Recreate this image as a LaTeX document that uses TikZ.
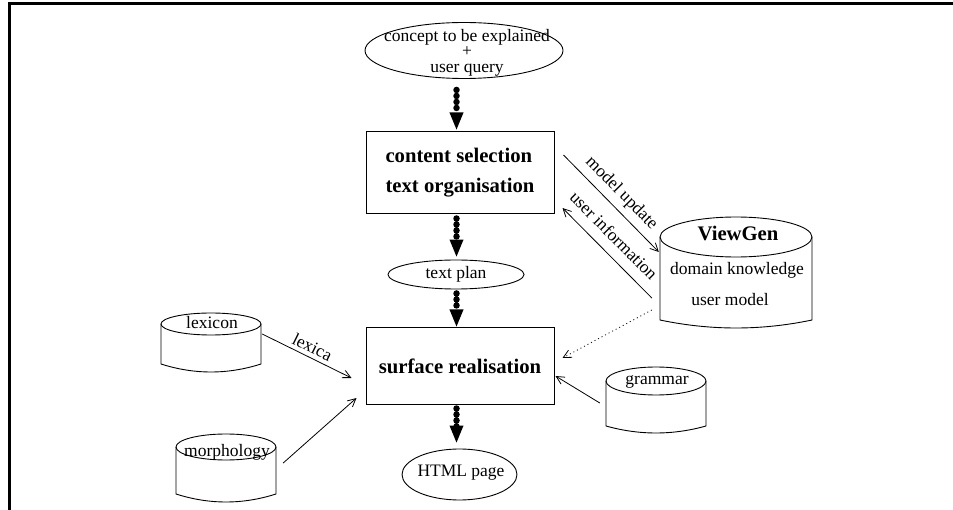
\documentclass[tikz,border=0pt]{standalone}
\usepackage{fontspec}
\setmainfont{Liberation Serif}
\usetikzlibrary{arrows.meta,shapes.geometric,calc}
\newcommand\nrmtxt{\fontsize{17.5}{20}\selectfont}
\newcommand\bigbf{\fontsize{20.7}{30}\selectfont\bfseries}
% cx, cy (top ellipse centre), rx, ry, y of side bottoms, sag of bottom arc
\newcommand\drawcyl[6]{%
  \draw[cylline] (#1,#2) ellipse [x radius=#3, y radius=#4];
  \draw[cylline] (#1-#3,#2) -- (#1-#3,#5) .. controls (#1-#3/3,#5+1.333*#6) and (#1+#3/3,#5+1.333*#6) .. (#1+#3,#5) -- (#1+#3,#2);
}
\begin{document}
\begin{tikzpicture}[x=1pt,y=-1pt,
  box/.style={draw, line width=1pt, minimum width=188pt, inner sep=0pt, font=\bigbf, align=left},
  oval/.style={draw, ellipse, line width=0.9pt, inner sep=0pt, font=\nrmtxt},
  flow/.style={line width=6.5pt, dash pattern=on 0pt off 6pt, line cap=round, -{Triangle[length=18pt,width=12.5pt]}},
  link/.style={line width=0.8pt, -{Straight Barb[length=8pt,width=8pt]}},
  cylline/.style={line width=0.9pt},
  cylbox/.style={inner sep=0pt, draw=none},
  lbl/.style={font=\nrmtxt, inner sep=2pt},
  txt/.style={font=\nrmtxt, inner sep=0pt}
]
\useasboundingbox (0,0) rectangle (953,510);
\draw[line width=3.3pt] (9.3,510) -- (9.3,3.3) -- (953,3.3);

% main column
\node[oval, minimum width=198pt, minimum height=56pt] (q) at (464,50.5) {};
\node[txt, align=center, font=\fontsize{17.5}{15.5}\selectfont] (qt) at (467,52.5) {concept to be explained\\+\\user query};
\node[box, minimum height=82pt] (box1) at (460,173) {content selection\\text organisation};
\node[oval, minimum width=136pt, minimum height=29pt] (tp) at (456,274.5) {text plan};
\node[box, minimum height=76pt] (box2) at (460,366) {surface realisation};
\node[oval, minimum width=115pt, minimum height=51pt] (html) at (459.5,474.5) {};
\node[txt] (htmlt) at (461,473) {HTML page};

% cylinders
\drawcyl{736}{237}{76}{20}{320}{8}
\node[cylbox, minimum width=152pt, minimum height=111pt] (vg) at (736,272.5) {};
\node[txt, font=\bigbf] (vgt) at (738,233) {ViewGen};
\node[txt] (vgd) at (737,270) {domain knowledge};
\node[txt] (vgu) at (730,300) {user model};

\drawcyl{211}{324}{50}{11}{364}{8}
\node[cylbox, minimum width=100pt, minimum height=59pt] (lex) at (211,342.5) {};
\node[txt] (lext) at (212,323) {lexicon};

\drawcyl{226}{447}{50}{13}{494}{8}
\node[cylbox, minimum width=100pt, minimum height=68pt] (morph) at (226,468) {};
\node[txt] (morpht) at (227,452) {morphology};

\drawcyl{656}{381}{50}{14}{426}{7}
\node[cylbox, minimum width=100pt, minimum height=66pt] (gr) at (656,400) {};
\node[txt] (grt) at (657,382) {grammar};

% thick dotted flow
\draw[flow, shorten <=11pt, shorten >=1pt] ($(box1.north |- q.south)+(-3.5,0)$) -- ($(box1.north)+(-3.5,0)$);
\draw[flow, shorten <=4pt, shorten >=2pt] ($(box1.south)+(-3.5,0)$) -- ($(box1.south |- tp.north)+(-3.5,0)$);
\draw[flow, shorten <=4pt] ($(box1.south |- tp.south)+(-3.5,0)$) -- ($(box2.north)+(-3.5,0)$);
\draw[flow, shorten <=4pt, shorten >=5pt] ($(box2.south)+(-3.5,0)$) -- ($(box2.south |- html.north)+(-3.5,0)$);

% thin links
\draw[link] ($(box1.east)+(9,-18)$) -- node[lbl, sloped, above=4pt, pos=0.5] {model update} ($(vg.west)+(-1,-20.5)$);
\draw[link] ($(vg.west)+(-8,25.5)$) -- node[lbl, sloped, above=8.5pt, pos=0.56] {user information} ($(box1.east)+(8,35)$);
\draw[link, dash pattern=on 1pt off 3pt] ($(vg.west)+(-8,37.5)$) -- ($(box2.east)+(8,-8)$);
\draw[link] ($(gr.west)+(-6,3)$) -- ($(box2.east)+(1,10)$);
\draw[link] ($(lex.east)+(1,-8.5)$) -- node[lbl, sloped, above=2pt, pos=0.51] {lexica} ($(box2.west)+(-14,12)$);
\draw[link] ($(morph.east)+(7,-5)$) -- ($(box2.west)+(-9,32)$);
\end{tikzpicture}
\end{document}
